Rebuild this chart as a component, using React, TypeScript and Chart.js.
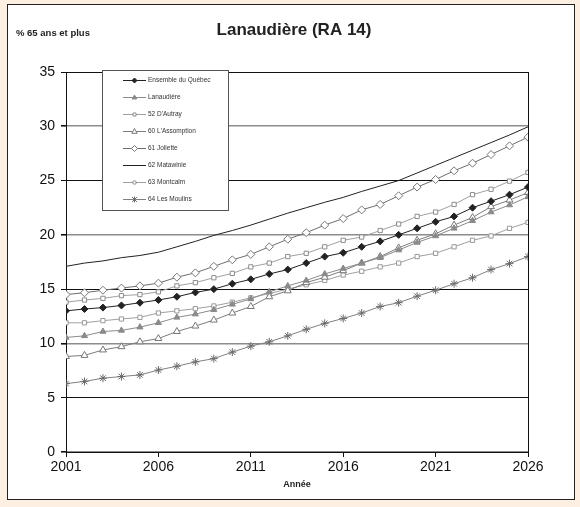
import React, { useEffect, useRef } from 'react';
import { Chart, registerables } from 'chart.js';

Chart.register(...registerables);

const years = [2001, 2002, 2003, 2004, 2005, 2006, 2007, 2008, 2009, 2010, 2011, 2012, 2013, 2014, 2015, 2016, 2017, 2018, 2019, 2020, 2021, 2022, 2023, 2024, 2025, 2026];
const xTicks = [2001, 2006, 2011, 2016, 2021, 2026];

const ensembleQuebec = [13.0, 13.17, 13.3, 13.5, 13.75, 14.0, 14.3, 14.7, 15.0, 15.5, 15.9, 16.4, 16.8, 17.4, 18.0, 18.35, 18.9, 19.4, 20.0, 20.6, 21.2, 21.7, 22.5, 23.1, 23.7, 24.4];
const lanaudiere = [10.55, 10.7, 11.1, 11.2, 11.5, 11.9, 12.4, 12.7, 13.1, 13.6, 14.1, 14.75, 15.3, 15.8, 16.4, 16.9, 17.4, 17.9, 18.6, 19.3, 19.9, 20.6, 21.3, 22.1, 22.75, 23.5];
const dAutray = [13.8, 14.0, 14.15, 14.4, 14.5, 14.75, 15.3, 15.6, 16.05, 16.45, 17.05, 17.4, 18.0, 18.3, 18.9, 19.5, 19.8, 20.4, 21.0, 21.7, 22.1, 22.8, 23.7, 24.2, 24.95, 25.75];
const lAssomption = [8.8, 8.9, 9.4, 9.7, 10.15, 10.45, 11.1, 11.6, 12.15, 12.8, 13.4, 14.3, 14.85, 15.6, 16.1, 16.7, 17.4, 18.0, 18.8, 19.5, 20.1, 20.9, 21.6, 22.6, 23.2, 23.9];
const joliette = [14.5, 14.67, 14.9, 15.1, 15.3, 15.55, 16.1, 16.5, 17.1, 17.7, 18.2, 18.9, 19.6, 20.2, 20.9, 21.5, 22.3, 22.8, 23.6, 24.4, 25.1, 25.9, 26.6, 27.4, 28.2, 29.0];
const matawinie = [17.1, 17.4, 17.6, 17.9, 18.1, 18.4, 18.9, 19.4, 19.95, 20.4, 20.9, 21.45, 22.0, 22.5, 23.0, 23.45, 24.0, 24.5, 25.0, 25.7, 26.4, 27.1, 27.8, 28.5, 29.2, 29.95];
const montcalm = [11.9, 11.9, 12.1, 12.25, 12.4, 12.8, 13.0, 13.2, 13.45, 13.8, 14.2, 14.6, 15.0, 15.4, 15.8, 16.3, 16.65, 17.05, 17.4, 18.0, 18.3, 18.9, 19.5, 19.9, 20.6, 21.15];
const lesMoulins = [6.3, 6.5, 6.8, 6.95, 7.1, 7.55, 7.9, 8.3, 8.6, 9.2, 9.75, 10.15, 10.7, 11.3, 11.85, 12.3, 12.8, 13.4, 13.75, 14.35, 14.9, 15.5, 16.05, 16.8, 17.35, 18.0];

const titleText = 'Lanaudière (RA 14)';
const yAxisLabel = '% 65 ans et plus';
const xAxisLabel = 'Année';

type SeriesDef = {
  label: string;
  values: number[];
  line: string;
  style: string | false;
  radius: number;
  fill: string;
  stroke: string;
};

const series: SeriesDef[] = [
  { label: 'Ensemble du Québec', values: ensembleQuebec, line: '#222222', style: 'rectRot', radius: 3.5, fill: '#222222', stroke: '#222222' },
  { label: 'Lanaudière', values: lanaudiere, line: '#8a8a8a', style: 'triangle', radius: 3.5, fill: '#8a8a8a', stroke: '#8a8a8a' },
  { label: "52 D'Autray", values: dAutray, line: '#a0a0a0', style: 'rect', radius: 3, fill: '#ffffff', stroke: '#8c8c8c' },
  { label: "60 L'Assomption", values: lAssomption, line: '#7c7c7c', style: 'triangle', radius: 4, fill: '#ffffff', stroke: '#777777' },
  { label: '61 Joliette', values: joliette, line: '#6e6e6e', style: 'rectRot', radius: 4, fill: '#ffffff', stroke: '#777777' },
  { label: '62 Matawinie', values: matawinie, line: '#222222', style: false, radius: 0, fill: '#222222', stroke: '#222222' },
  { label: '63 Montcalm', values: montcalm, line: '#a0a0a0', style: 'rect', radius: 3, fill: '#ffffff', stroke: '#999999' },
  { label: '64 Les Moulins', values: lesMoulins, line: '#808080', style: 'star', radius: 4, fill: '#777777', stroke: '#6a6a6a' },
];

function drawMarker(ctx: CanvasRenderingContext2D, style: string | false, x: number, y: number, r: number, fill: string, stroke: string) {
  if (!style) return;
  ctx.save();
  ctx.fillStyle = fill;
  ctx.strokeStyle = stroke;
  ctx.lineWidth = 1;
  ctx.beginPath();
  if (style === 'rectRot') {
    ctx.moveTo(x, y - r);
    ctx.lineTo(x + r, y);
    ctx.lineTo(x, y + r);
    ctx.lineTo(x - r, y);
    ctx.closePath();
    ctx.fill();
    ctx.stroke();
  } else if (style === 'triangle') {
    ctx.moveTo(x, y - r);
    ctx.lineTo(x + r * 0.9, y + r * 0.6);
    ctx.lineTo(x - r * 0.9, y + r * 0.6);
    ctx.closePath();
    ctx.fill();
    ctx.stroke();
  } else if (style === 'rect') {
    const s = r * 0.75;
    ctx.rect(x - s, y - s, 2 * s, 2 * s);
    ctx.fill();
    ctx.stroke();
  } else if (style === 'star') {
    ctx.moveTo(x, y - r);
    ctx.lineTo(x, y + r);
    const d = r * 0.8;
    ctx.moveTo(x - d, y - d);
    ctx.lineTo(x + d, y + d);
    ctx.moveTo(x + d, y - d);
    ctx.lineTo(x - d, y + d);
    ctx.stroke();
  }
  ctx.restore();
}

const extrasPlugin = {
  id: 'extras',
  afterDraw(chart: any) {
    const ctx: CanvasRenderingContext2D = chart.ctx;
    const area = chart.chartArea;
    ctx.save();
    // right border of plot
    ctx.strokeStyle = '#111111';
    ctx.lineWidth = 1;
    ctx.beginPath();
    ctx.moveTo(Math.round(area.right) + 0.5, area.top);
    ctx.lineTo(Math.round(area.right) + 0.5, area.bottom);
    ctx.stroke();

    // title
    ctx.fillStyle = '#222222';
    ctx.textBaseline = 'middle';
    ctx.textAlign = 'center';
    ctx.font = 'bold 17px "Liberation Sans", Arial, sans-serif';
    ctx.fillText(titleText, 294, 30);

    ctx.textAlign = 'left';
    ctx.font = 'bold 9.5px "Liberation Sans", Arial, sans-serif';
    ctx.fillText(yAxisLabel, 16, 33);

    ctx.textAlign = 'center';
    ctx.font = 'bold 9px "Liberation Sans", Arial, sans-serif';
    ctx.fillText(xAxisLabel, (area.left + area.right) / 2, 485);

    // legend box
    const bx = 102.5, by = 70.5, bw = 126, bh = 140;
    ctx.fillStyle = '#ffffff';
    ctx.fillRect(bx, by, bw, bh);
    ctx.strokeStyle = '#555555';
    ctx.lineWidth = 1;
    ctx.strokeRect(bx, by, bw, bh);

    ctx.font = '6.5px "Liberation Sans", Arial, sans-serif';
    ctx.textAlign = 'left';
    ctx.textBaseline = 'middle';
    series.forEach((s, i) => {
      const y = 80 + i * 17;
      ctx.strokeStyle = s.line;
      ctx.lineWidth = 1;
      ctx.beginPath();
      ctx.moveTo(123, y + 0.5);
      ctx.lineTo(146, y + 0.5);
      ctx.stroke();
      drawMarker(ctx, s.style, 134.5, y + 0.5, Math.max(2, s.radius - 1), s.fill, s.stroke);
      ctx.fillStyle = '#333333';
      ctx.fillText(s.label, 148, y + 0.5);
    });
    ctx.restore();
  },
};

export default function App() {
  const canvasRef = useRef<HTMLCanvasElement | null>(null);

  useEffect(() => {
    document.body.style.margin = '0';
    const canvas = canvasRef.current;
    if (!canvas) return;

    const datasets = series.map((s) => ({
      label: s.label,
      data: years.map((yr, i) => ({ x: yr, y: s.values[i] })),
      borderColor: s.line,
      borderWidth: 1,
      pointStyle: s.style as any,
      pointRadius: s.radius,
      pointHoverRadius: s.radius,
      pointBackgroundColor: s.fill,
      pointBorderColor: s.stroke,
      pointBorderWidth: 1,
      tension: 0,
      fill: false,
    }));

    const gridColor = (c: any) => {
      const v = c.tick ? c.tick.value : 0;
      return v % 10 === 0 ? '#8c8c8c' : '#111111';
    };
    const gridWidth = (c: any) => {
      const v = c.tick ? c.tick.value : 0;
      return v % 10 === 0 ? 1.6 : 1;
    };

    const chart = new Chart(canvas, {
      type: 'line',
      data: { datasets },
      options: {
        animation: false,
        responsive: false,
        devicePixelRatio: 1,
        layout: { padding: { left: 0, top: 72, right: 52, bottom: 0 } },
        plugins: {
          legend: { display: false },
          title: { display: false },
          tooltip: { enabled: false },
        },
        scales: {
          x: {
            type: 'linear',
            min: 2001,
            max: 2026,
            afterBuildTicks: (s: any) => {
              s.ticks = xTicks.map((v) => ({ value: v }));
            },
            afterFit: (s: any) => {
              s.height = 55;
            },
            grid: { drawOnChartArea: false, tickLength: 5, tickColor: '#111111' },
            border: { color: '#111111', width: 1 },
            ticks: {
              color: '#111111',
              padding: 2,
              maxRotation: 0,
              autoSkip: false,
              font: { family: '"Liberation Sans", Arial, sans-serif', size: 14 },
              callback: (v: any) => String(v),
            },
          },
          y: {
            type: 'linear',
            min: 0,
            max: 35,
            afterFit: (s: any) => {
              s.width = 66;
            },
            grid: { color: gridColor, lineWidth: gridWidth, tickLength: 5, tickColor: '#111111' },
            border: { color: '#111111', width: 1 },
            ticks: {
              stepSize: 5,
              color: '#111111',
              padding: 6,
              font: { family: '"Liberation Sans", Arial, sans-serif', size: 14 },
            },
          },
        },
      },
      plugins: [extrasPlugin],
    });

    return () => {
      chart.destroy();
    };
  }, []);

  return (
    <div style={{ position: 'relative', width: 580, height: 507, background: '#fdf0e2', overflow: 'hidden' }}>
      <div
        style={{
          position: 'absolute',
          left: 7,
          top: 4,
          width: 568,
          height: 496,
          background: '#ffffff',
          border: '1px solid #222',
          boxSizing: 'border-box',
        }}
      />
      <canvas ref={canvasRef} width={580} height={507} style={{ position: 'absolute', left: 0, top: 0 }} />
    </div>
  );
}
